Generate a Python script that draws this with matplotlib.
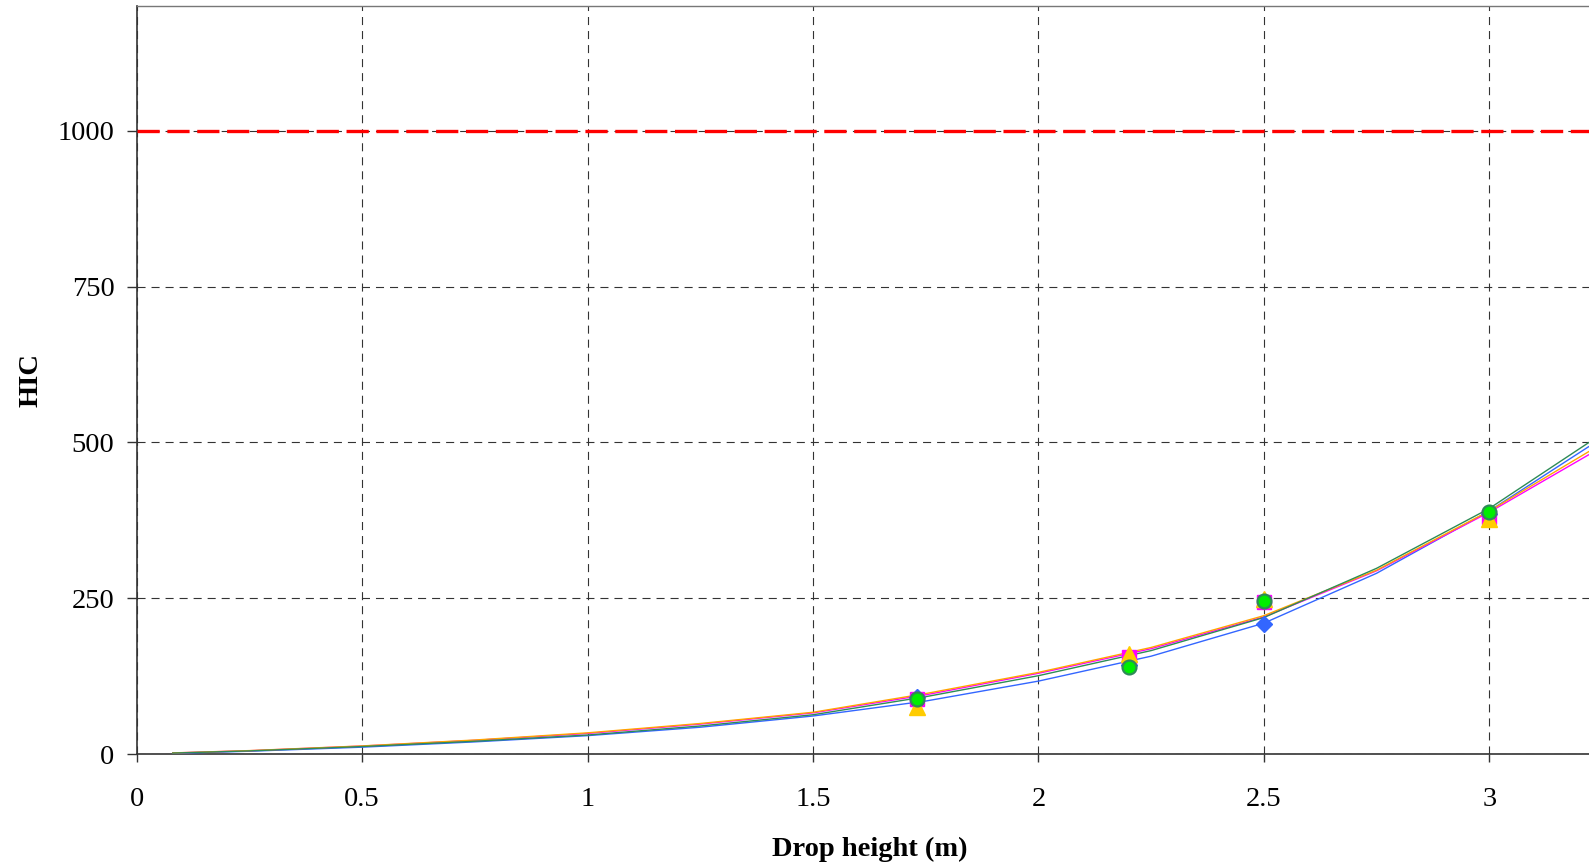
import matplotlib
matplotlib.use("Agg")
import matplotlib.pyplot as plt

plt.rcParams['font.family'] = ['Liberation Serif', 'DejaVu Serif']
plt.rcParams['lines.scale_dashes'] = False

# Fitted curve values
curve_x = [0.08, 0.25, 0.5, 0.75, 1.0, 1.25, 1.5, 1.75, 2.0, 2.25, 2.5, 2.75, 3.0, 3.22]
curve_blue = [1.2, 4.5, 11, 19.5, 29.5, 43, 61, 85, 117, 157, 210, 290, 390, 493]
curve_magenta = [1.7, 5.3, 12.8, 22, 33, 48, 66, 95, 129.5, 169, 220, 294, 388, 480]
curve_orange = [1.8, 5.5, 13, 22.5, 34, 49, 67, 97, 131, 171, 222, 295, 390, 485]
curve_green = [1.5, 5, 12, 20.5, 30.5, 45, 63, 92, 125.7, 166, 219, 298, 394, 499.5]

# Measured points
pts_x = [1.73, 2.2, 2.5, 3.0]
pts_blue = [91, 143, 209, 385]
pts_magenta = [89, 156, 244, 381]
pts_gold = [75, 160, 249, 377]
pts_green = [88, 139, 246, 389]

threshold = 1000

x_ticks = [0, 0.5, 1, 1.5, 2, 2.5, 3]
x_tick_labels = ["0", "0.5", "1", "1.5", "2", "2.5", "3"]
y_ticks = [0, 250, 500, 750, 1000]
y_tick_labels = ["0", "250", "500", "750", "1000"]

fig = plt.figure(figsize=(15.89, 8.67), dpi=100)
ax = fig.add_axes([0.086, 0.1303, 0.914, 0.8627])

ax.set_xlim(0, 3.221)
ax.set_ylim(0, 1200)

ax.set_xticks(x_ticks)
ax.set_xticklabels(x_tick_labels)
ax.set_yticks(y_ticks)
ax.set_yticklabels(y_tick_labels)

ax.grid(True, color='#333333', linestyle=(0, (5.8, 4.3)), linewidth=0.8)
ax.set_axisbelow(True)

ax.tick_params(axis='x', direction='out', length=6, width=1, pad=18, labelsize=20.5, color='#333333')
ax.tick_params(axis='y', direction='out', length=7, width=1, pad=9, labelsize=20.5, color='#333333')

for side in ['left', 'bottom']:
    ax.spines[side].set_color('#333333')
    ax.spines[side].set_linewidth(1.2)
ax.spines['top'].set_color('#777777')
ax.spines['top'].set_linewidth(1.0)
ax.spines['right'].set_visible(False)

ax.axhline(threshold, color='#FF0000', linewidth=2.4, linestyle=(0, (16, 5.5)), zorder=3)

ax.plot(curve_x, curve_blue, color='#3366FF', linewidth=1.0, zorder=4)
ax.plot(curve_x, curve_magenta, color='#FF00FF', linewidth=1.0, zorder=4)
ax.plot(curve_x, curve_orange, color='#FFA500', linewidth=1.0, zorder=4)
ax.plot(curve_x, curve_green, color='#2E8B57', linewidth=1.0, zorder=4)

ax.plot(pts_x, pts_blue, linestyle='none', marker='D', markersize=8.5,
        markerfacecolor='#3366FF', markeredgecolor='#3366FF', zorder=5)
ax.plot(pts_x, pts_magenta, linestyle='none', marker='s', markersize=9.5,
        markerfacecolor='#FF00FF', markeredgecolor='#FF00FF', zorder=6)
ax.plot(pts_x, pts_gold, linestyle='none', marker='^', markersize=11,
        markerfacecolor='#FFCC00', markeredgecolor='#FFCC00', zorder=7)
ax.plot(pts_x, pts_green, linestyle='none', marker='o', markersize=10,
        markerfacecolor='#00EE00', markeredgecolor='#2E8B57', markeredgewidth=1.6, zorder=8)

ax.set_xlabel('Drop height (m)', fontsize=20.5, fontweight='bold', va='center')
ax.xaxis.set_label_coords(0.505, -0.128)
ax.set_ylabel('HIC', fontsize=20.5, fontweight='bold', va='center')
ax.yaxis.set_label_coords(-0.073, 0.5)

fig.savefig('out.png', dpi=100)
